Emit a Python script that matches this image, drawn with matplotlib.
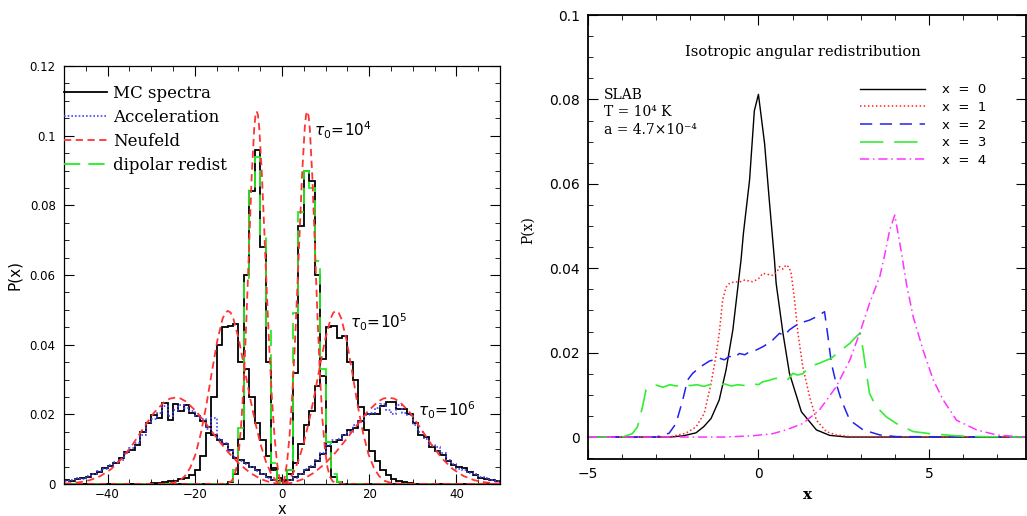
import numpy as np
import matplotlib
matplotlib.use("Agg")
import matplotlib.pyplot as plt
from matplotlib.ticker import MultipleLocator, FuncFormatter
from matplotlib.lines import Line2D

# ------------------------------------------------------------------ left panel data
bin_edges = np.linspace(-50, 50, 81)          # histogram bins, width 1.25

mc_tau6 = [0.0012, 0.0010, 0.0013, 0.0016, 0.0020, 0.0028, 0.0035, 0.0045, 0.0052, 0.0060,
           0.0074, 0.0092, 0.0098, 0.0112, 0.0150, 0.0174, 0.0198, 0.0190, 0.0232, 0.0185,
           0.0230, 0.0210, 0.0227, 0.0205, 0.0194, 0.0180, 0.0165, 0.0140, 0.0125, 0.0115,
           0.0098, 0.0075, 0.0070, 0.0060, 0.0050, 0.0040, 0.0030, 0.0020, 0.0012, 0.0008,
           0.0008, 0.0012, 0.0020, 0.0028, 0.0040, 0.0050, 0.0065, 0.0085, 0.0120, 0.0122,
           0.0125, 0.0140, 0.0155, 0.0160, 0.0180, 0.0200, 0.0200, 0.0200, 0.0225, 0.0235,
           0.0235, 0.0215, 0.0215, 0.0200, 0.0175, 0.0140, 0.0135, 0.0105, 0.0095, 0.0083,
           0.0065, 0.0055, 0.0048, 0.0046, 0.0035, 0.0025, 0.0018, 0.0015, 0.0012, 0.0010]

accel_tau6 = [0.0010, 0.0012, 0.0016, 0.0014, 0.0024, 0.0030, 0.0038, 0.0042, 0.0055, 0.0064,
              0.0070, 0.0088, 0.0104, 0.0118, 0.0142, 0.0178, 0.0188, 0.0205, 0.0225, 0.0195,
              0.0212, 0.0226, 0.0218, 0.0210, 0.0196, 0.0186, 0.0158, 0.0190, 0.0130, 0.0118,
              0.0095, 0.0078, 0.0066, 0.0058, 0.0048, 0.0038, 0.0028, 0.0018, 0.0011, 0.0007,
              0.0007, 0.0011, 0.0018, 0.0030, 0.0042, 0.0052, 0.0068, 0.0090, 0.0112, 0.0125,
              0.0130, 0.0142, 0.0150, 0.0168, 0.0182, 0.0198, 0.0205, 0.0218, 0.0230, 0.0212,
              0.0200, 0.0228, 0.0205, 0.0198, 0.0170, 0.0150, 0.0128, 0.0112, 0.0105, 0.0090,
              0.0070, 0.0058, 0.0044, 0.0040, 0.0032, 0.0028, 0.0020, 0.0018, 0.0012, 0.0009]

# tau0 = 1e5 : bins from -30 to 30
mc_tau5_core = [0.0002, 0.0003, 0.0005, 0.0008, 0.0010, 0.0014, 0.0018, 0.0026,
                0.0040, 0.0080, 0.0145, 0.0250, 0.0400, 0.0450, 0.0455, 0.0460,
                0.0350, 0.0330, 0.0250, 0.0175, 0.0125, 0.0080, 0.0045, 0.0018,
                0.0012, 0.0030, 0.0060, 0.0115, 0.0170, 0.0210, 0.0280, 0.0360,
                0.0450, 0.0455, 0.0420, 0.0425, 0.0350, 0.0300, 0.0220, 0.0155,
                0.0095, 0.0065, 0.0040, 0.0025, 0.0015, 0.0010, 0.0006, 0.0003]
mc_tau5 = [0.0] * 16 + mc_tau5_core + [0.0] * 16

# tau0 = 1e4 : bins from -15 to 15
mc_tau4_core = [0.0, 0.0, 0.0005, 0.0030, 0.0130, 0.0600, 0.0840, 0.0960, 0.0680, 0.0350,
                0.0040, 0.0010, 0.0010, 0.0040, 0.0320, 0.0740, 0.0900, 0.0870, 0.0600, 0.0310,
                0.0110, 0.0020, 0.0005, 0.0]
mc_tau4 = [0.0] * 28 + mc_tau4_core + [0.0] * 28

dipolar_tau4_core = [0.0, 0.0, 0.0010, 0.0040, 0.0160, 0.0590, 0.0850, 0.0940, 0.0710, 0.0450,
                     0.0060, 0.0005, 0.0005, 0.0040, 0.0490, 0.0780, 0.0900, 0.0850, 0.0640, 0.0330,
                     0.0120, 0.0030, 0.0005, 0.0]
dipolar_tau4 = [0.0] * 28 + dipolar_tau4_core + [0.0] * 28

# Neufeld analytic curves (positive half, mirrored)
neuf4_x = [0, 0.58, 1.16, 1.74, 2.32, 2.90, 3.48, 4.06, 4.64, 5.22, 5.51, 5.80, 6.09, 6.38,
           6.96, 7.54, 8.12, 8.70, 9.28, 9.86, 10.44, 11.02, 11.60, 12.76, 14.5, 50]
neuf4_p = [0, 0.0016, 0.0062, 0.0140, 0.0249, 0.0387, 0.0550, 0.0727, 0.0896, 0.1023, 0.1059,
           0.1070, 0.1057, 0.1020, 0.0881, 0.0686, 0.0486, 0.0314, 0.0184, 0.0098, 0.0047,
           0.0020, 0.0008, 0.0001, 0, 0]
neuf5_x = [0, 1.24, 2.48, 3.72, 4.96, 6.2, 7.44, 8.68, 9.92, 11.16, 11.78, 12.4, 13.02, 13.64,
           14.88, 16.12, 17.36, 18.6, 19.84, 21.08, 22.32, 23.56, 24.8, 27.28, 31.0, 50]
neuf5_p = [0, 0.0007, 0.0029, 0.0065, 0.0116, 0.0180, 0.0255, 0.0337, 0.0416, 0.0475, 0.0492,
           0.0497, 0.0491, 0.0474, 0.0409, 0.0319, 0.0226, 0.0146, 0.0085, 0.0046, 0.0022,
           0.0009, 0.0004, 0.0, 0, 0]
neuf6_x = [0, 2.45, 4.9, 7.35, 9.8, 12.25, 14.7, 17.15, 19.6, 22.05, 23.28, 24.5, 25.73, 26.95,
           29.4, 31.85, 34.3, 36.75, 39.2, 41.65, 44.1, 46.55, 49.0, 50]
neuf6_p = [0, 0.00036, 0.00144, 0.00325, 0.00578, 0.00898, 0.01275, 0.01684, 0.02075, 0.02371,
           0.02455, 0.0248, 0.02450, 0.02363, 0.02041, 0.01590, 0.01126, 0.00727, 0.00427,
           0.00228, 0.00109, 0.00047, 0.00018, 0.00015]

legend_labels = ["MC spectra", "Acceleration", "Neufeld", "dipolar redist"]
tau_labels = [r"$\tau_0\!=\!10^4$", r"$\tau_0\!=\!10^5$", r"$\tau_0\!=\!10^6$"]

# ------------------------------------------------------------------ right panel data
x0_x = [-5, -2.6, -2.2, -1.83, -1.6, -1.39, -1.15, -0.95, -0.75, -0.51, -0.44, -0.26, -0.12,
        0.0, 0.18, 0.32, 0.47, 0.52, 0.72, 0.91, 1.26, 1.70, 2.09, 2.6, 8]
x0_p = [0, 0, 0.0003, 0.0010, 0.0025, 0.0044, 0.0088, 0.0159, 0.0254, 0.0420, 0.0483, 0.0609,
        0.0773, 0.0812, 0.0696, 0.0560, 0.0420, 0.0364, 0.0246, 0.0151, 0.0060, 0.0017,
        0.0004, 0, 0]
x1_x = [-5, -2.62, -2.13, -1.83, -1.59, -1.39, -1.25, -1.15, -1.05, -0.95, -0.85, -0.7, -0.56,
        -0.4, -0.17, 0.0, 0.13, 0.3, 0.42, 0.55, 0.62, 0.72, 0.81, 0.9, 0.96, 1.06, 1.16, 1.30,
        1.5, 1.7, 1.99, 2.28, 2.7, 8]
x1_p = [0, 0, 0.0009, 0.0024, 0.0056, 0.0127, 0.0190, 0.0246, 0.0325, 0.0355, 0.0364, 0.0368,
        0.0367, 0.0372, 0.0368, 0.0375, 0.0388, 0.0385, 0.0383, 0.0392, 0.0404, 0.0398, 0.0408,
        0.0402, 0.0388, 0.0325, 0.0246, 0.0167, 0.0096, 0.0040, 0.0013, 0.0005, 0.0001, 0]
x2_x = [-5, -3.0, -2.62, -2.42, -2.22, -2.08, -1.93, -1.69, -1.44, -1.15, -1.0, -0.85, -0.7,
        -0.56, -0.4, -0.26, -0.07, 0.13, 0.25, 0.42, 0.62, 0.75, 0.91, 1.05, 1.21, 1.5, 1.7,
        1.94, 2.04, 2.14, 2.28, 2.43, 2.68, 3.07, 3.56, 4.05, 8]
x2_p = [0, 0, 0.0009, 0.0032, 0.0088, 0.0135, 0.0151, 0.0167, 0.0180, 0.0187, 0.0183, 0.0191,
        0.0188, 0.0198, 0.0195, 0.0202, 0.0206, 0.0214, 0.0220, 0.0230, 0.0246, 0.0240, 0.0254,
        0.0262, 0.0270, 0.0277, 0.0285, 0.0297, 0.0238, 0.0175, 0.0127, 0.0088, 0.0040,
        0.0017, 0.0005, 0.0001, 0]
x3_x = [-5, -3.99, -3.7, -3.55, -3.40, -3.30, -3.2, -3.0, -2.8, -2.6, -2.4, -2.2, -2.0, -1.8,
        -1.6, -1.4, -1.2, -1.0, -0.8, -0.6, -0.4, -0.2, 0.0, 0.13, 0.3, 0.5, 0.72, 0.85, 1.01,
        1.15, 1.30, 1.5, 1.79, 2.14, 2.43, 2.68, 2.92, 2.99, 3.07, 3.17, 3.26, 3.46, 3.75,
        4.05, 4.54, 5.03, 5.8, 6.5, 8]
x3_p = [0, 0, 0.0008, 0.0024, 0.0072, 0.0111, 0.0120, 0.0123, 0.0118, 0.0124, 0.0121, 0.0125,
        0.0122, 0.0124, 0.0120, 0.0125, 0.0122, 0.0126, 0.0121, 0.0124, 0.0122, 0.0127, 0.0124,
        0.0131, 0.0134, 0.0139, 0.0139, 0.0135, 0.0151, 0.0147, 0.0150, 0.0167, 0.0175,
        0.0187, 0.0206, 0.0222, 0.0242, 0.0246, 0.0206, 0.0151, 0.0103, 0.0072, 0.0048,
        0.0032, 0.0013, 0.0008, 0.0003, 0.0001, 0]
x4_x = [-5, -1.0, -0.17, 0.42, 0.81, 1.30, 1.79, 2.28, 2.68, 2.97, 3.26, 3.56, 3.70, 3.85, 4.0,
        4.2, 4.34, 4.54, 4.83, 5.13, 5.42, 5.81, 6.4, 6.99, 7.6, 8]
x4_p = [0, 0, 0.0003, 0.0008, 0.0017, 0.0032, 0.0064, 0.0119, 0.0182, 0.0246, 0.0317, 0.0380,
        0.0430, 0.0490, 0.0526, 0.0435, 0.0364, 0.0285, 0.0206, 0.0135, 0.0088, 0.0040,
        0.0017, 0.0005, 0.0001, 0]
right_labels = ["x  =  0", "x  =  1", "x  =  2", "x  =  3", "x  =  4"]

# ------------------------------------------------------------------ figure
fig = plt.figure(figsize=(10.27, 5.16), dpi=100)
fmt = FuncFormatter(lambda v, p: "%g" % v)

# ---------------- left
red_ls = (0, (4, 2.5))
green_ls = (0, (9, 4.5))
blue_ls = (0, (1, 1.2))

axL = fig.add_axes([64 / 1027, 32 / 516, 436 / 1027, 418 / 516])
axL.stairs(mc_tau6, bin_edges, color="black", lw=1.3)
axL.stairs(mc_tau5, bin_edges, color="black", lw=1.3)
axL.stairs(mc_tau4, bin_edges, color="black", lw=1.3)
axL.stairs(accel_tau6, bin_edges, color="#4444ff", lw=1.2, ls=blue_ls)
axL.stairs(dipolar_tau4, bin_edges, color="#22ee22", lw=1.3, ls=green_ls)
for xs, ps in [(neuf4_x, neuf4_p), (neuf5_x, neuf5_p), (neuf6_x, neuf6_p)]:
    xs = np.asarray(xs)
    ps = np.asarray(ps)
    axL.plot(np.concatenate([-xs[::-1], xs]), np.concatenate([ps[::-1], ps]),
             color="#ff3333", lw=1.3, ls=red_ls)

axL.set_xlim(-50, 50)
axL.set_ylim(0, 0.12)
axL.xaxis.set_major_locator(MultipleLocator(20))
axL.xaxis.set_minor_locator(MultipleLocator(5))
axL.yaxis.set_major_locator(MultipleLocator(0.02))
axL.yaxis.set_minor_locator(MultipleLocator(0.005))
axL.yaxis.set_major_formatter(fmt)
axL.tick_params(which="both", direction="in", top=True, right=True, labelsize=8.5)
axL.tick_params(axis="x", pad=3)
axL.tick_params(axis="y", pad=6)
axL.tick_params(which="major", length=7)
axL.tick_params(which="minor", length=3.5)
for s in axL.spines.values():
    s.set_linewidth(0.9)
axL.set_xlabel("x", fontsize=10.5)
axL.xaxis.set_label_coords(0.5, -0.043)
axL.set_ylabel("P(x)", fontsize=11)
axL.yaxis.set_label_coords(-0.096, 0.5)

handles = [Line2D([], [], color="black", lw=1.3),
           Line2D([], [], color="#4444ff", lw=1.2, ls=blue_ls),
           Line2D([], [], color="#ff3333", lw=1.3, ls=red_ls),
           Line2D([], [], color="#22ee22", lw=1.3, ls=green_ls)]
axL.legend(handles, legend_labels, loc="upper left", bbox_to_anchor=(0.0, 0.955),
           frameon=False, borderpad=0, borderaxespad=0, handlelength=2.6,
           handletextpad=0.35, labelspacing=0.42,
           prop={"family": "DejaVu Serif", "size": 12})

axL.text(7.3, 0.1016, tau_labels[0], fontsize=11, va="center", ha="left")
axL.text(15.5, 0.0465, tau_labels[1], fontsize=11, va="center", ha="left")
axL.text(31.1, 0.0212, tau_labels[2], fontsize=11, va="center", ha="left")

# ---------------- right
axR = fig.add_axes([588 / 1027, 57 / 516, 438 / 1027, 444 / 516])
axR.plot(x0_x, x0_p, color="black", lw=1.0, label=right_labels[0])
axR.plot(x1_x, x1_p, color="#ff2222", lw=1.1, ls=(0, (1, 1.6)), label=right_labels[1])
axR.plot(x2_x, x2_p, color="#2222ee", lw=1.1, ls=(0, (8, 5)), label=right_labels[2])
axR.plot(x3_x, x3_p, color="#33ee33", lw=1.2, ls=(0, (14, 6.5)), label=right_labels[3])
axR.plot(x4_x, x4_p, color="#ff33ff", lw=1.1, ls=(0, (6, 2.5, 1, 2.5)), label=right_labels[4])

axR.set_xlim(-5, 7.85)
axR.set_ylim(-0.0052, 0.1)
axR.xaxis.set_major_locator(MultipleLocator(5))
axR.xaxis.set_minor_locator(MultipleLocator(1))
axR.yaxis.set_major_locator(MultipleLocator(0.02))
axR.yaxis.set_minor_locator(MultipleLocator(0.005))
axR.yaxis.set_major_formatter(fmt)
axR.tick_params(which="both", direction="in", top=True, right=True, labelsize=10, pad=6)
axR.tick_params(which="major", length=7)
axR.tick_params(which="minor", length=3.5)
for s in axR.spines.values():
    s.set_linewidth(1.3)
axR.set_xlabel("x", fontsize=11, family="DejaVu Serif", fontweight="bold")
axR.xaxis.set_label_coords(0.502, -0.065)
axR.set_ylabel("P(x)", fontsize=10, family="DejaVu Serif")
axR.yaxis.set_label_coords(-0.121, 0.516)

axR.legend(loc="upper left", bbox_to_anchor=(0.621, 0.846), frameon=False,
           borderpad=0, borderaxespad=0, handlelength=4.9, handletextpad=1.3,
           labelspacing=0.35, prop={"family": "DejaVu Sans", "size": 9.5})

axR.text(1.29, 0.0912, "Isotropic angular redistribution", family="DejaVu Serif",
         fontsize=10.5, ha="center", va="center")
axR.text(-4.53, 0.081, "SLAB", family="DejaVu Serif", fontsize=10, ha="left", va="center")
axR.text(-4.53, 0.077, "T = 10⁴ K", family="DejaVu Serif", fontsize=10, ha="left", va="center")
axR.text(-4.53, 0.0727, "a = 4.7×10⁻⁴", family="DejaVu Serif", fontsize=10, ha="left",
         va="center")

fig.savefig("out.png", dpi=100)
